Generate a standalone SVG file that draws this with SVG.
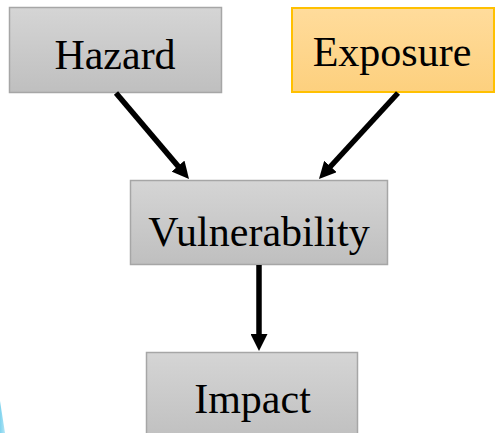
<svg xmlns="http://www.w3.org/2000/svg" width="498" height="433" viewBox="0 0 498 433">
<defs>
<linearGradient id="gGray" x1="0" y1="0" x2="0" y2="1">
<stop offset="0" stop-color="#d5d5d5"/>
<stop offset="1" stop-color="#bfbfbf"/>
</linearGradient>
<linearGradient id="gOrange" x1="0" y1="0" x2="0" y2="1">
<stop offset="0" stop-color="#ffdc9c"/>
<stop offset="1" stop-color="#fdd07e"/>
</linearGradient>
<linearGradient id="gCyan" x1="0" y1="0" x2="1" y2="0">
<stop offset="0" stop-color="#7fd3ee"/>
<stop offset="1" stop-color="#b5e6f6"/>
</linearGradient>
<marker id="arrow" markerUnits="userSpaceOnUse" markerWidth="17" markerHeight="17" refX="2" refY="8.5" orient="auto">
<path d="M0,0 L17,8.5 L0,17 z" fill="#000"/>
</marker>
</defs>
<style>
.box{fill:url(#gGray);stroke:#a6a6a6;stroke-width:1.5}
.boxO{fill:url(#gOrange);stroke:#ffc000;stroke-width:2}
.lbl{font-family:"Liberation Serif","Times New Roman",serif;font-size:42px;fill:#000;text-anchor:middle}
.conn{stroke:#000;stroke-width:5.5;fill:none;marker-end:url(#arrow)}
</style>
<polygon points="0,401 5,433 0,433" fill="url(#gCyan)"/>
<g id="hazard">
<rect class="box" x="9.5" y="7.5" width="212" height="85"/>
<text class="lbl" x="115" y="69">Hazard</text>
</g>
<g id="exposure">
<rect class="boxO" x="292" y="8" width="202" height="84"/>
<text class="lbl" x="392" y="66">Exposure</text>
</g>
<g id="vulnerability">
<rect class="box" x="130.5" y="180.5" width="257" height="84"/>
<text class="lbl" x="259" y="246">Vulnerability</text>
</g>
<g id="impact">
<rect class="box" x="146.5" y="352.5" width="211" height="90"/>
<text class="lbl" x="252.5" y="413">Impact</text>
</g>
<g id="connectors">
<line class="conn" x1="116" y1="93" x2="179.3" y2="167.6"/>
<line class="conn" x1="398" y1="93" x2="329.1" y2="168"/>
<line class="conn" x1="259" y1="265" x2="259" y2="336"/>
</g>
</svg>
